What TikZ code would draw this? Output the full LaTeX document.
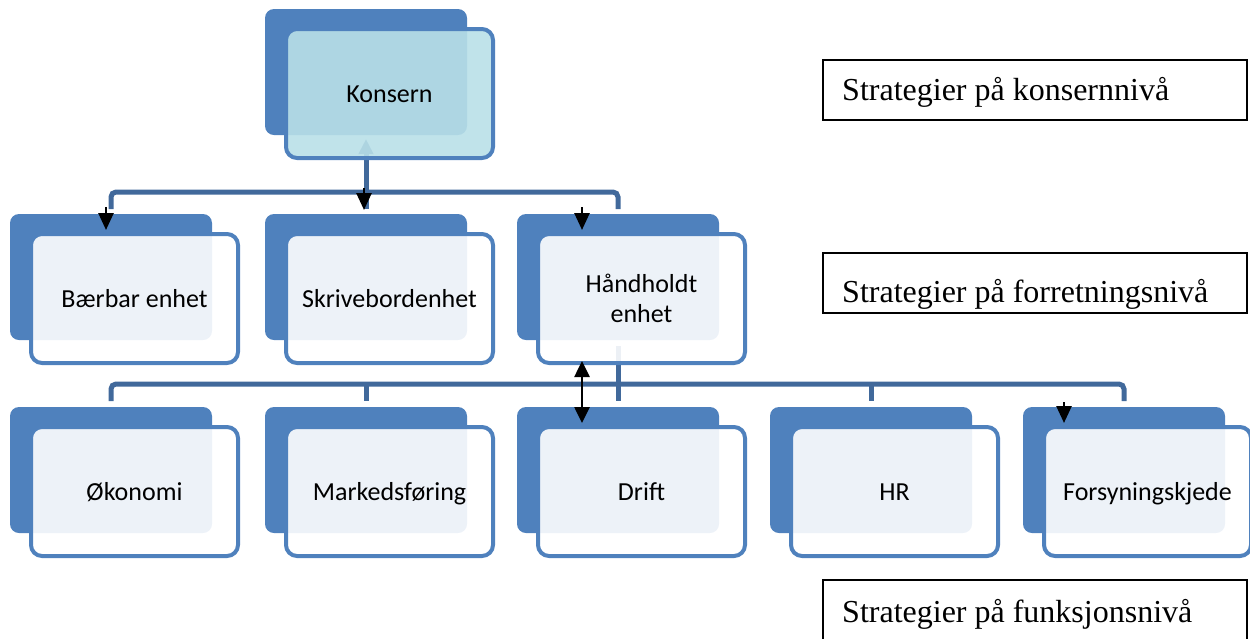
\documentclass[tikz,border=0pt]{standalone}
\usepackage{fontspec}
\newfontfamily\boxfont{Carlito}
\newfontfamily\levelfont{Liberation Serif}
\usetikzlibrary{arrows.meta,calc}
\definecolor{accent}{RGB}{79,129,189}
\definecolor{linkblue}{RGB}{65,105,155}
\definecolor{topfill}{RGB}{185,224,232}
\begin{document}
\begin{tikzpicture}[x=1pt, y=-1pt,
  back/.style={fill=accent, rounded corners=9pt, minimum width=202pt,
    minimum height=126pt, inner sep=0pt, outer sep=0pt, anchor=north west},
  unit/.style={draw=accent, line width=4pt, fill=white, fill opacity=0.9,
    text opacity=1, rounded corners=11pt, minimum width=207pt,
    minimum height=129pt, inner sep=0pt, outer sep=0pt, anchor=north west,
    font=\boxfont\fontsize{26}{30}\selectfont, align=center,
    text height=18pt, text depth=0pt},
  link/.style={draw=linkblue, line width=5pt},
  pointer/.style={draw=black, line width=2.6pt, -{Triangle[length=17pt,width=15pt]}},
  twoway/.style={draw=black, line width=2.6pt,
    {Triangle[length=16pt,width=15pt]}-{Triangle[length=16pt,width=15pt]}},
  levelbox/.style={draw=black, line width=1.8pt, fill=white, minimum width=424pt,
    inner sep=0pt, outer sep=0pt, anchor=north west},
  leveltext/.style={anchor=base west, inner sep=0pt,
    font=\levelfont\fontsize{32}{38}\selectfont}
]
\useasboundingbox (0,0) rectangle (1250,638);
\clip (0,0) rectangle (1250,638);

% shadow boxes
\node[back] (kback) at (265,9) {};
\node[back] (b1back) at (10,214) {};
\node[back] (b2back) at (265,214) {};
\node[back] (b3back) at (517,214) {};
\node[back] (f1back) at (10,407) {};
\node[back] (f2back) at (265,407) {};
\node[back] (f3back) at (517,407) {};
\node[back] (f4back) at (770,407) {};
\node[back] (f5back) at (1023,407) {};

% hierarchy connectors
\coordinate (bus1) at (0,192);
\coordinate (bus2) at (0,384);
\draw[link, -{Triangle[length=15pt,width=14pt]}] (kback.south |- bus1) -- ($(kback.south)+(0,4)$);
\draw[link, rounded corners=5pt] ($(b1back.north)+(0,-5)$) -- (b1back.north |- bus1)
  -- (b3back.north |- bus1) -- ($(b3back.north)+(0,-5)$);
\draw[link] (b2back.north |- bus1) -- ($(b2back.north)+(0,-5)$);
\draw[link, rounded corners=5pt] ($(f1back.north)+(0,-6)$) -- (f1back.north |- bus2)
  -- (f5back.north |- bus2) -- ($(f5back.north)+(0,-6)$);
\draw[link] (f2back.north |- bus2) -- ($(f2back.north)+(0,-6)$);
\draw[link] (f4back.north |- bus2) -- ($(f4back.north)+(0,-6)$);
\draw[link] ($(b3back.south)+(0,6)$) -- ($(f3back.north)+(0,-6)$);

% unit boxes
\node[unit, fill=topfill] (kons) at (286,29) {Konsern};
\node[unit] (b1) at (31,234) {Bærbar enhet};
\node[unit] (b2) at (286,234) {Skrivebordenhet};
\node[unit, text height=47pt] (b3) at (538,234) {Håndholdt\\enhet};
\node[unit] (f1) at (31,427) {Økonomi};
\node[unit] (f2) at (286,427) {Markedsføring};
\node[unit] (f3) at (538,427) {Drift};
\node[unit] (f4) at (791,427) {HR};
\node[unit] (f5) at (1044,427) {Forsyningskjede};

% black arrows
\coordinate (p1s) at (106,207); \coordinate (p1e) at (106,230);
\coordinate (p2s) at (364,188); \coordinate (p2e) at (364,210);
\coordinate (p3s) at (582,207); \coordinate (p3e) at (582,230);
\coordinate (p4s) at (582,361); \coordinate (p4e) at (582,423);
\coordinate (p5s) at (1064,402); \coordinate (p5e) at (1064,423);
\draw[pointer] (p1s) -- (p1e);
\draw[pointer] (p2s) -- (p2e);
\draw[pointer] (p3s) -- (p3e);
\draw[twoway] (p4s) -- (p4e);
\draw[pointer] (p5s) -- (p5e);

% strategy level labels
\node[levelbox, minimum height=60pt] (lvl1) at (823,60) {};
\node[leveltext] (lvl1text) at ($(lvl1.north west)+(19,40)$) {Strategier på konsernnivå};
\node[levelbox, minimum height=60pt] (lvl2) at (823,253) {};
\node[leveltext] (lvl2text) at ($(lvl2.north west)+(19,49)$) {Strategier på forretningsnivå};
\node[levelbox, minimum height=70pt] (lvl3) at (823,580) {};
\node[leveltext] (lvl3text) at ($(lvl3.north west)+(19,42)$) {Strategier på funksjonsnivå};
\end{tikzpicture}
\end{document}
